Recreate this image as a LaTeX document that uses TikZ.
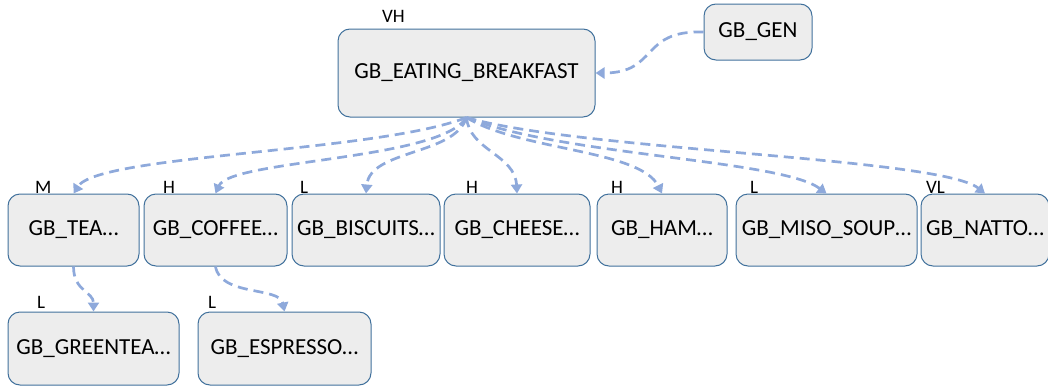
\documentclass[tikz,border=0pt]{standalone}
\usepackage{fontspec}
\setmainfont{Carlito}
\usetikzlibrary{arrows.meta}
\definecolor{boxfill}{HTML}{EDEDED}
\definecolor{boxline}{HTML}{41719C}
\definecolor{linkblue}{HTML}{8EA9DB}
\begin{document}
\begin{tikzpicture}[x=1pt,y=-1pt,
  box/.style={draw=boxline, fill=boxfill, line width=1pt, rounded corners=12pt,
    inner sep=0pt, minimum height=72pt, font=\fontsize{23}{27}\selectfont},
  tag/.style={anchor=base west, inner sep=0pt, font=\fontsize{19}{22}\selectfont},
  link/.style={draw=linkblue, line width=2.7pt, dash pattern=on 10pt off 6pt,
    -{Triangle[length=9pt,width=11pt]}},
]
\clip (0,0) rectangle (1048,388);
% parent and generator
\node[box, minimum width=257pt, minimum height=88pt] (main) at (466.5,73) {GB\_EATING\_BREAKFAST};
\node[box, minimum width=108pt, minimum height=56pt] (gen) at (758,32) {GB\_GEN};
% first row of children
\node[box, minimum width=131pt] (tea) at (73.5,230) {GB\_TEA…};
\node[box, minimum width=143pt] (coffee) at (215.5,230) {GB\_COFFEE…};
\node[box, minimum width=148pt] (biscuits) at (366,230) {GB\_BISCUITS…};
\node[box, minimum width=146pt] (cheese) at (517,230) {GB\_CHEESE…};
\node[box, minimum width=130pt] (ham) at (662,230) {GB\_HAM…};
\node[box, minimum width=181pt] (miso) at (826.5,230) {GB\_MISO\_SOUP…};
\node[box, minimum width=128pt] (natto) at (985,230) {GB\_NATTO…};
% second row
\node[box, minimum width=171pt, minimum height=73pt] (greentea) at (93.5,348.5) {GB\_GREENTEA…};
\node[box, minimum width=173pt, minimum height=73pt] (espresso) at (284.5,348.5) {GB\_ESPRESSO…};
% level tags
\node[tag] (tmain) at (382,22) {VH};
\node[tag] (ttea) at (35,193) {M};
\node[tag] (tcoffee) at (163,193) {H};
\node[tag] (tbiscuits) at (300,193) {L};
\node[tag] (tcheese) at (466,193) {H};
\node[tag] (tham) at (611,193) {H};
\node[tag] (tmiso) at (750,193) {L};
\node[tag] (tnatto) at (926,193) {VL};
\node[tag] (tgreentea) at (37,308) {L};
\node[tag] (tespresso) at (208,308) {L};
% connectors
\draw[link] (gen.west) .. controls +(-64,-2) and +(63,0) .. (main.east);
\draw[link] (main.south) .. controls +(-90,35) and +(25,-39) .. (tea.north);
\draw[link] (main.south) .. controls +(-27,43) and +(15,-34) .. (coffee.north);
\draw[link] (main.south) .. controls +(-12,38) and +(4,-44) .. (biscuits.north);
\draw[link] (main.south) .. controls +(3,33) and +(-2,-39) .. (cheese.north);
\draw[link] (main.south) .. controls +(53,33) and +(-22,-44) .. (ham.north);
\draw[link] (main.south) .. controls +(93,38) and +(-46,-34) .. (miso.north);
\draw[link] (main.south) .. controls +(113,33) and +(-45,-36) .. (natto.north);
\draw[link] (tea.south) .. controls +(0,25) and +(0,-20) .. (greentea.north);
\draw[link] (coffee.south) .. controls +(5,30) and +(-5,-25) .. (espresso.north);
\end{tikzpicture}
\end{document}
